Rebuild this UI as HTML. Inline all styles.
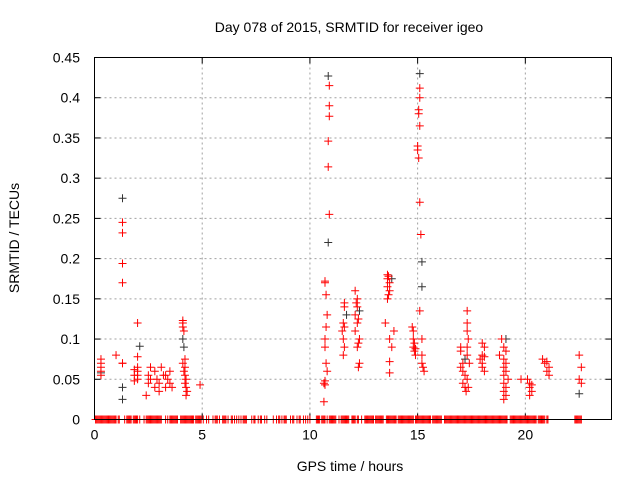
<!DOCTYPE html>
<html><head><meta charset="utf-8"><style>
body{margin:0;background:#fff;}
svg text{font-family:"Liberation Sans",sans-serif;font-size:14px;fill:#000;}
</style></head><body>
<svg id="chart" width="640" height="480" xmlns="http://www.w3.org/2000/svg">
<rect width="640" height="480" fill="#fff"/>
<text x="349" y="32" text-anchor="middle">Day 078 of 2015, SRMTID for receiver igeo</text>
<text x="350" y="471" text-anchor="middle">GPS time / hours</text>
<text transform="translate(19,238) rotate(-90)" text-anchor="middle">SRMTID / TECUs</text>
<g id="grid"></g>
<g id="ticks"></g>
<g id="marks"></g>
<rect x="94.5" y="57.5" width="517" height="362" fill="none" stroke="#000" stroke-width="1"/>
</svg>
<script>
const xTicks=[0,5,10,15,20];
const yTicks=[0,0.05,0.1,0.15,0.2,0.25,0.3,0.35,0.4,0.45];
const yTickLabels=["0","0.05","0.1","0.15","0.2","0.25","0.3","0.35","0.4","0.45"];
const redHours=[0.3,0.3,0.3,0.3,0.3,1.0,1.3,1.3,1.3,1.3,1.3,1.3,2.0,2.0,2.0,2.0,2.0,2.0,1.85,1.85,1.85,
2.5,2.5,2.6,2.6,2.8,2.8,2.9,3.0,3.1,3.2,3.3,3.4,3.5,3.5,3.6,2.4,3.0,3.3,
4.1,4.1,4.1,4.15,4.2,4.1,4.2,4.15,4.2,4.25,4.2,4.25,4.3,4.25,4.9,
10.7,10.7,10.75,10.7,10.7,10.75,10.8,10.7,10.65,10.7,10.65,10.8,10.75,
10.9,10.9,10.9,10.85,10.85,10.9,
11.6,11.6,11.55,11.6,11.5,11.55,11.6,11.55,
12.1,12.2,12.15,12.2,12.1,12.25,12.2,12.1,12.3,12.25,12.2,12.3,12.25,
13.6,13.65,13.6,13.7,13.6,13.7,13.65,13.6,13.5,13.7,13.8,13.7,13.7,13.9,
14.8,14.8,14.85,14.8,14.9,14.85,14.9,14.75,
15.1,15.1,15.05,15.05,15.1,15.0,15.0,15.05,15.1,15.15,15.1,15.2,15.2,15.2,15.25,15.3,
17.0,17.0,17.1,17.0,17.1,17.2,17.1,17.2,
17.3,17.3,17.3,17.35,17.3,17.3,17.4,17.3,17.35,17.25,
18.0,18.1,18.0,18.1,17.9,18.0,18.0,18.1,
18.9,19.0,19.1,18.8,19.0,19.1,19.0,19.1,19.0,19.2,19.0,19.1,19.0,19.1,19.0,
19.8,20.2,20.3,20.2,20.3,20.2,20.1,
20.8,21.0,20.9,21.1,21.0,21.1,
22.5,22.6,22.5,22.6];
const redValues=[0.075,0.07,0.065,0.06,0.055,0.08,0.245,0.232,0.194,0.17,0.07,0.07,0.12,0.078,0.065,0.06,0.055,0.05,0.062,0.055,0.048,
0.055,0.045,0.065,0.05,0.06,0.04,0.05,0.045,0.065,0.055,0.04,0.05,0.06,0.045,0.04,0.03,0.035,0.055,
0.123,0.12,0.115,0.11,0.075,0.07,0.065,0.06,0.055,0.05,0.045,0.04,0.035,0.03,0.043,
0.172,0.17,0.115,0.1,0.09,0.07,0.06,0.048,0.045,0.043,0.022,0.13,0.155,
0.415,0.39,0.377,0.346,0.314,0.255,
0.145,0.14,0.12,0.115,0.11,0.1,0.09,0.08,
0.16,0.15,0.145,0.14,0.13,0.125,0.12,0.11,0.1,0.095,0.09,0.07,0.065,
0.18,0.178,0.175,0.17,0.165,0.16,0.155,0.15,0.12,0.1,0.09,0.072,0.058,0.11,
0.11,0.1,0.095,0.09,0.088,0.085,0.08,0.115,
0.412,0.4,0.385,0.38,0.365,0.34,0.335,0.325,0.27,0.23,0.135,0.1,0.08,0.07,0.065,0.06,
0.09,0.085,0.07,0.065,0.06,0.055,0.045,0.04,
0.135,0.12,0.11,0.1,0.09,0.08,0.07,0.05,0.04,0.035,
0.095,0.09,0.08,0.078,0.075,0.07,0.065,0.06,
0.1,0.09,0.085,0.08,0.075,0.07,0.065,0.06,0.055,0.05,0.045,0.04,0.035,0.03,0.025,
0.05,0.045,0.043,0.04,0.035,0.03,0.05,
0.075,0.072,0.07,0.065,0.06,0.055,
0.08,0.065,0.05,0.045];
const blackHours=[1.3,1.3,1.3,2.1,4.1,4.15,10.85,10.85,15.1,15.2,15.2,11.7,12.3,13.8,17.2,19.1,22.5,0.3];
const blackValues=[0.275,0.04,0.025,0.091,0.1,0.09,0.427,0.22,0.43,0.196,0.165,0.13,0.135,0.175,0.075,0.1,0.032,0.058];
const zeroHours=[0.05,0.1,0.15,0.2,0.25,0.3,0.35,0.4,0.45,0.5,0.55,0.6,0.65,0.7,0.75,0.8,0.85,0.9,0.95,1.0,1.1,1.15,1.4,1.5,1.55,1.6,1.65,1.7,1.8,1.85,1.9,1.95,2.0,2.1,2.3,2.4,2.45,2.5,2.55,2.6,2.65,2.7,2.75,2.8,2.85,2.9,2.95,3.0,3.05,3.1,3.3,3.4,3.5,3.55,3.6,3.65,3.7,3.75,3.8,3.85,4.0,4.05,4.1,4.15,4.2,4.25,4.3,4.35,4.4,4.45,4.5,4.55,4.6,4.7,4.75,4.8,4.85,4.9,4.95,
5.05,5.2,5.3,5.5,5.6,5.65,5.7,5.8,5.95,6.0,6.05,6.1,6.2,6.35,6.4,6.5,6.6,6.7,6.8,6.9,6.95,7.0,7.05,7.3,7.4,7.45,7.6,7.7,7.75,7.9,8.0,8.3,8.45,8.55,8.6,8.7,8.8,8.85,8.9,9.1,9.2,9.25,9.4,9.5,9.55,9.7,9.8,9.9,10.0,
10.3,10.35,10.4,10.45,10.55,10.6,10.65,10.7,10.8,10.9,10.95,11.0,11.05,11.1,11.15,11.2,11.35,11.45,11.5,11.55,11.6,11.65,11.7,11.75,11.8,11.95,12.0,12.05,12.1,12.2,12.25,12.4,12.55,12.6,12.65,12.7,12.75,12.8,12.85,12.9,12.95,13.05,13.1,13.15,13.2,13.25,13.3,13.35,13.4,13.55,13.6,13.65,13.7,13.75,13.8,13.85,13.9,13.95,14.0,14.1,14.15,14.2,14.25,14.3,14.35,14.4,14.45,14.5,14.55,14.6,14.65,14.7,14.75,14.8,14.9,14.95,15.0,15.05,15.1,15.15,15.2,15.25,15.3,15.35,15.4,15.45,15.5,15.55,15.6,15.7,15.75,15.8,15.85,15.9,15.95,16.0,16.05,16.1,
16.25,16.3,16.35,16.4,16.45,16.5,16.55,16.6,16.65,16.7,16.75,16.8,16.85,16.9,16.95,17.0,17.05,17.1,17.15,17.2,17.25,17.3,17.35,17.4,17.45,17.5,17.55,17.6,17.65,17.7,17.75,17.8,17.85,17.9,17.95,18.0,18.05,18.1,18.15,18.2,18.25,18.3,18.35,18.4,18.45,18.5,18.55,18.6,18.65,18.7,18.75,18.8,18.85,18.9,18.95,19.0,19.05,19.1,19.15,19.3,19.35,19.4,19.45,19.5,19.55,19.6,19.65,19.7,19.75,19.8,19.85,19.9,19.95,20.0,20.05,20.1,20.15,20.2,20.25,20.3,20.35,20.4,20.45,20.5,20.6,20.65,20.7,20.75,20.8,20.85,20.9,21.0,21.05,
22.3,22.35,22.4,22.45,22.5,22.55,22.6];
const NS='http://www.w3.org/2000/svg';
const X0=94.5,X1=611.5,Y0=419.5,Y1=57.5;
const xs=h=>X0+(h/24)*(X1-X0);
const ys=v=>Y0-(v/0.45)*(Y0-Y1);
const grid=document.getElementById('grid'),ticks=document.getElementById('ticks'),marks=document.getElementById('marks');
function mk(t,a,p){const e=document.createElementNS(NS,t);for(const k in a)e.setAttribute(k,a[k]);p.appendChild(e);return e;}
xTicks.forEach(t=>{const x=xs(t);
 if(t>0){const g=mk('line',{x1:x,x2:x,y1:Y0,y2:Y1,stroke:'#a0a0a0','stroke-dasharray':'2,3'},grid);
 
 }
 mk('line',{x1:x,x2:x,y1:Y0,y2:Y0-6,stroke:'#000'},ticks);mk('line',{x1:x,x2:x,y1:Y1,y2:Y1+6,stroke:'#000'},ticks);
 const l=mk('text',{x:x,y:Y0+20,'text-anchor':'middle'},ticks);l.textContent=t;
 
 });
yTicks.forEach((t,i)=>{const y=ys(t);
 if(i>0&&i<yTicks.length-1){const g=mk('line',{x1:X0,x2:X1,y1:y,y2:y,stroke:'#a0a0a0','stroke-dasharray':'2,3'},grid);
 
 }
 mk('line',{x1:X0,x2:X0+6,y1:y,y2:y,stroke:'#000'},ticks);mk('line',{x1:X1,x2:X1-6,y1:y,y2:y,stroke:'#000'},ticks);
 const l=mk('text',{x:80,y:y+5,'text-anchor':'end'},ticks);l.textContent=yTickLabels[i];
 
 });
function plus(h,v,c,name){const x=xs(h),y=ys(v);
 const p=mk('path',{d:`M${x-4} ${y}h8M${x} ${y-4}v8`,stroke:c,'stroke-width':1,fill:'none'},marks);
 
 }
blackHours.forEach((h,i)=>plus(h,blackValues[i],'#333','black-point'));
zeroHours.forEach(h=>plus(h,0,'#f00','zero-point'));
redHours.forEach((h,i)=>plus(h,redValues[i],'#f00','red-point'));
</script>
</body></html>
